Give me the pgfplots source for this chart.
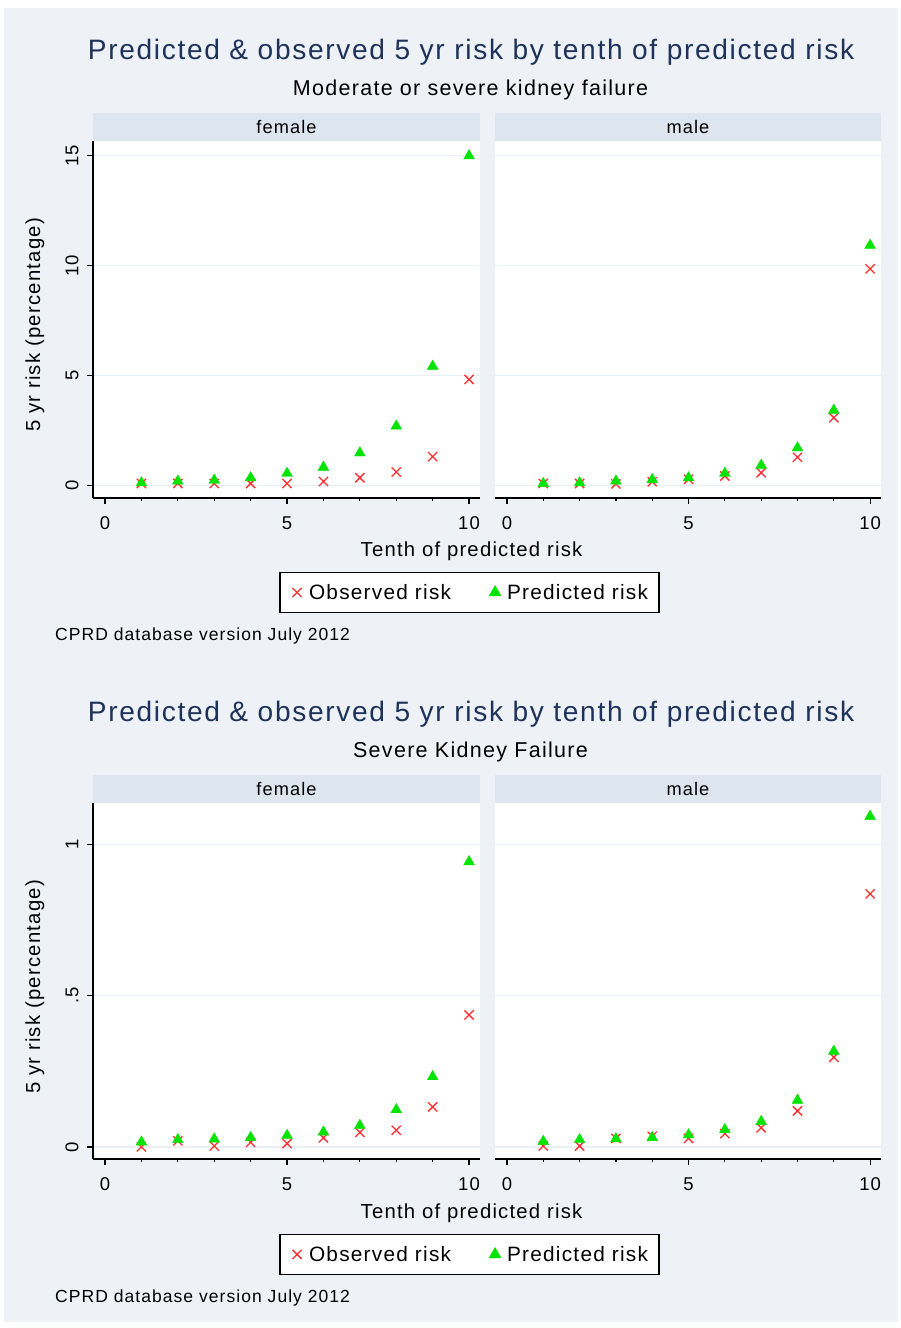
\documentclass[border=0pt]{standalone}
\usepackage{fontspec}
\setmainfont{Liberation Sans}[LetterSpace=6]
\usepackage{pgfplots}
\usepackage{pgfplotstable}
\pgfplotsset{compat=1.18}

\definecolor{bgcol}{RGB}{238,242,247}
\definecolor{stripcol}{RGB}{221,229,239}
\definecolor{gridcol}{RGB}{232,239,245}
\definecolor{titlecol}{RGB}{30,50,90}
\definecolor{obscol}{RGB}{255,45,45}
\definecolor{predcol}{RGB}{0,228,0}

% Moderate or severe kidney failure, 5 yr risk (%) by tenth of predicted risk
\pgfplotstableread{
decile obs  pred
1      0.10 0.13
2      0.10 0.21
3      0.10 0.25
4      0.10 0.36
5      0.10 0.56
6      0.19 0.84
7      0.36 1.49
8      0.62 2.71
9      1.32 5.43
10     4.83 15.00
}\modfemale
\pgfplotstableread{
decile obs  pred
1      0.10 0.10
2      0.10 0.13
3      0.08 0.21
4      0.18 0.28
5      0.29 0.36
6      0.44 0.56
7      0.59 0.93
8      1.29 1.72
9      3.09 3.43
10     9.86 10.93
}\modmale
% Severe kidney failure
\pgfplotstableread{
decile obs   pred
1      0.000 0.016
2      0.020 0.024
3      0.003 0.026
4      0.015 0.031
5      0.011 0.038
6      0.030 0.049
7      0.048 0.071
8      0.055 0.123
9      0.132 0.232
10     0.436 0.942
}\sevfemale
\pgfplotstableread{
decile obs   pred
1      0.003 0.018
2      0.003 0.024
3      0.028 0.027
4      0.035 0.031
5      0.028 0.040
6      0.044 0.057
7      0.063 0.084
8      0.119 0.154
9      0.296 0.316
10     0.836 1.092
}\sevmale

\newcommand\titlefont{\fontsize{28.1}{31}\selectfont}
\newcommand\subfont{\fontsize{21.5}{24}\selectfont}
\newcommand\stripfont{\fontsize{18.2}{21}\selectfont}
\newcommand\labfont{\fontsize{20.3}{23}\selectfont}
\newcommand\legfont{\fontsize{20.8}{23}\selectfont}
\newcommand\tickfont{\fontsize{18.5}{21}\selectfont}
\newcommand\notefont{\fontsize{17.5}{20}\selectfont}

\pgfplotsset{
  panel/.style={
    scale only axis, height=357pt,
    xmin=-0.33, xmax=10.3,
    axis x line*=bottom, axis y line*=left,
    axis line style={line width=1.3pt, black},
    axis background/.style={fill=white},
    xtick={0,5,10}, xticklabels={0,5,10},
    minor xtick={1,2,3,4,6,7,8,9},
    tick align=outside, major tick length=6pt, minor tick length=3pt,
    every tick/.style={line width=1.2pt, black},
    ymajorgrids, grid style={gridcol, line width=1.3pt},
    ticklabel style={font=\tickfont},
    /pgf/number format/assume math mode=true,
    yticklabel style={rotate=90, anchor=south},
    xticklabel shift=9pt, yticklabel shift=5pt,
  },
  leftpanel/.style={panel, width=387pt},
  rightpanel/.style={panel, width=386pt,
    y axis line style={draw=none}, ytick style={draw=none},
    yticklabels={}},
  obs/.style={only marks, mark=x, mark size=6.5pt, line width=1.3pt, color=obscol,
    legend image code/.code={%
      \path[draw=none, fill=none] (0pt,0pt) rectangle (18pt,0pt);
      \draw[##1] plot coordinates {(8pt,0pt)};}},
  pred/.style={only marks, mark=triangle*, mark size=6.2pt, color=predcol,
    legend image code/.code={%
      \path[draw=none, fill=none] (0pt,0pt) rectangle (18pt,0pt);
      \draw[##1] plot coordinates {(8pt,0pt)};}},
  riskleg/.style={
    legend columns=2,
    legend style={at={(axis description cs:0.973,#1)}, anchor=center,
      draw=black, line width=1.2pt, fill=white, font=\legfont,
      inner xsep=9pt, inner ysep=10pt,
      /tikz/every even column/.append style={column sep=34pt}},
  },
}

\begin{document}
\begin{tikzpicture}[x=1pt,y=1pt]
\fill[white] (0,0) rectangle (901,-1328);
\fill[bgcol] (4,-8) rectangle (898,-1322);

% panel header strips
\foreach \dy in {0,662}{
  \fill[stripcol] (93,-113-\dy) rectangle (480,-141-\dy);
  \fill[stripcol] (495,-113-\dy) rectangle (881,-141-\dy);
  \node[font=\stripfont, anchor=base] at (286.5,-133.5-\dy) {female};
  \node[font=\stripfont, anchor=base] at (688,-133.5-\dy) {male};
}

% ---- Moderate or severe kidney failure ----
\begin{axis}[leftpanel, at={(93pt,-498pt)}, anchor=south west,
  ymin=-0.56, ymax=15.67, ytick={0,5,10,15}, yticklabels={0,5,10,15},
  riskleg=-0.2647]
\addplot[obs]  table[x=decile, y=obs]  {\modfemale};
\addplot[pred] table[x=decile, y=pred] {\modfemale};
\legend{Observed risk, Predicted risk}
\end{axis}
\begin{axis}[rightpanel, at={(495pt,-498pt)}, anchor=south west,
  ymin=-0.56, ymax=15.67, ytick={0,5,10,15}]
\addplot[obs]  table[x=decile, y=obs]  {\modmale};
\addplot[pred] table[x=decile, y=pred] {\modmale};
\end{axis}

% ---- Severe kidney failure ----
\begin{axis}[leftpanel, height=356pt, at={(93pt,-1159pt)}, anchor=south west,
  ymin=-0.04, ymax=1.136, ytick={0,0.5,1}, yticklabels={0,.5,1},
  riskleg=-0.268]
\addplot[obs]  table[x=decile, y=obs]  {\sevfemale};
\addplot[pred] table[x=decile, y=pred] {\sevfemale};
\legend{Observed risk, Predicted risk}
\end{axis}
\begin{axis}[rightpanel, height=356pt, at={(495pt,-1159pt)}, anchor=south west,
  ymin=-0.04, ymax=1.136, ytick={0,0.5,1}]
\addplot[obs]  table[x=decile, y=obs]  {\sevmale};
\addplot[pred] table[x=decile, y=pred] {\sevmale};
\end{axis}

% titles, axis titles and notes
\foreach \dy/\sub in {0/Moderate or severe kidney failure, 662/Severe Kidney Failure}{
  \node[font=\titlefont, text=titlecol, anchor=base] at (471,-59.3-\dy)
    {Predicted \& observed 5 yr risk by tenth of predicted risk};
  \node[font=\subfont, anchor=base] at (470.5,-95.7-\dy) {\sub};
  \node[font=\labfont, anchor=base] at (471.5,-556.7-\dy) {Tenth of predicted risk};
  \node[font=\labfont, rotate=90] at (35,-325-\dy) {5 yr risk (percentage)};
  \node[font=\notefont, anchor=base west, inner sep=0pt] at (55,-640-\dy)
    {CPRD database version July 2012};
}
\end{tikzpicture}
\end{document}
